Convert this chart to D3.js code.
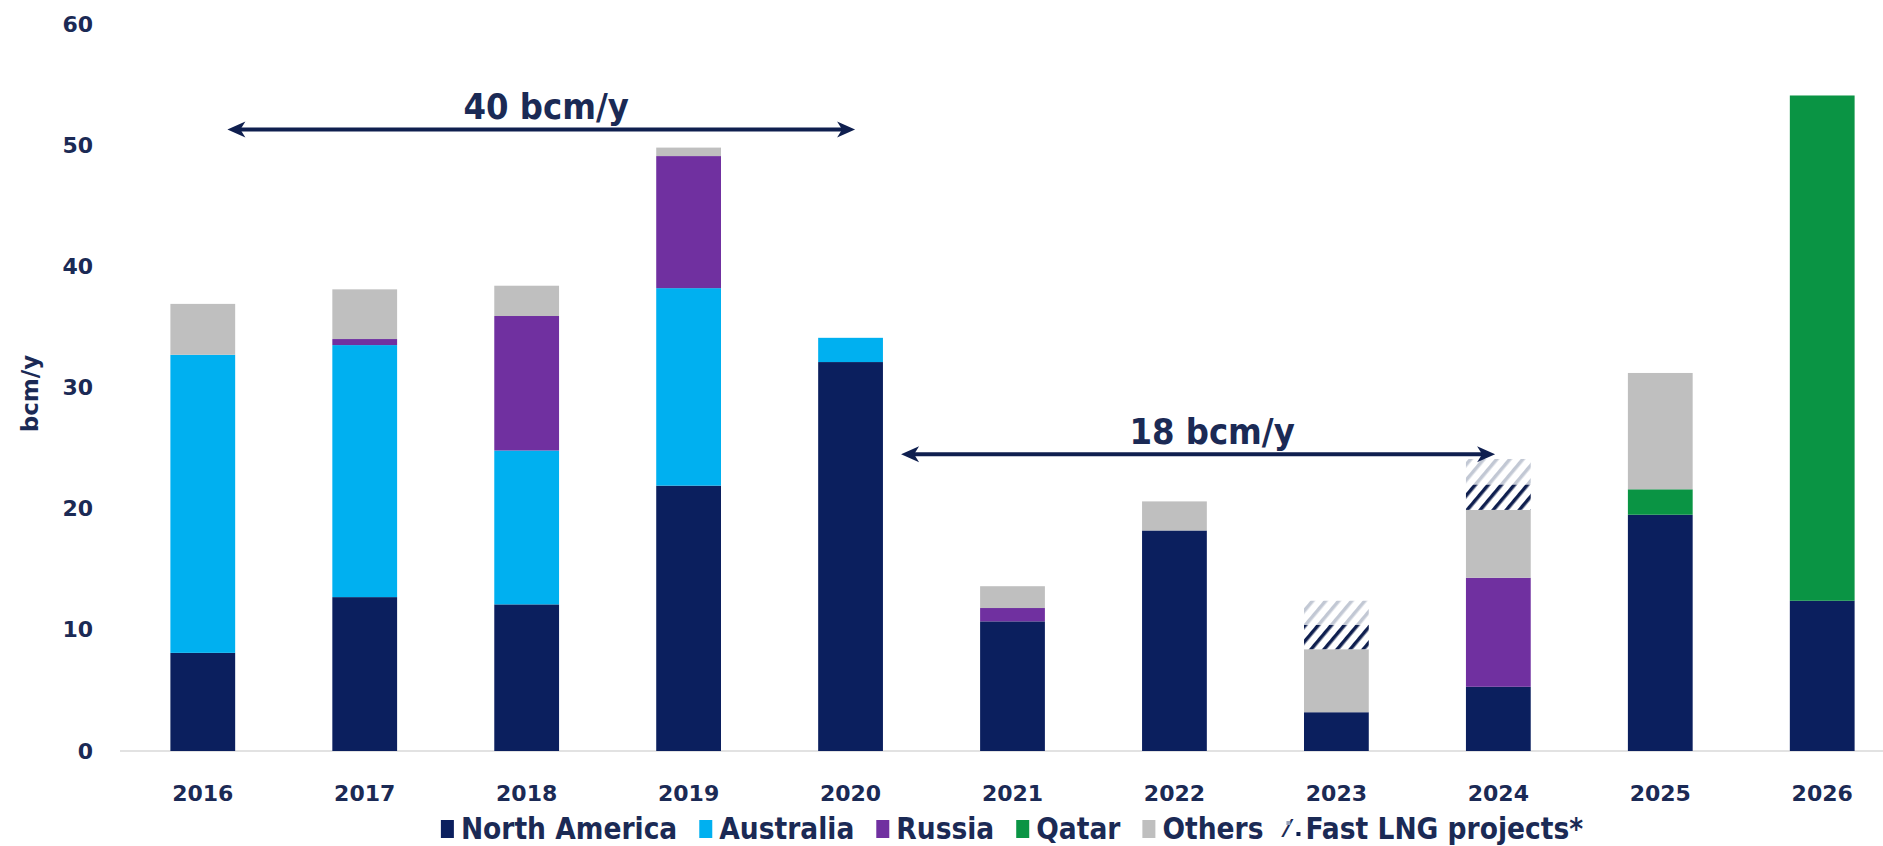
<!DOCTYPE html>
<html>
<head>
<meta charset="utf-8">
<script src="https://cdn.jsdelivr.net/npm/d3@7/dist/d3.min.js"></script>
<style>
  body { margin: 0; background: #fff; }
  svg { display: block; }
  text { fill: #1b2a55; font-weight: bold; }
</style>
</head>
<body>
<svg id="chart" width="1883" height="846"></svg>
<script>
// data (bcm/y)
const years = ['2016', '2017', '2018', '2019', '2020', '2021', '2022', '2023', '2024', '2025', '2026'];
const northAmerica = [8.1, 12.7, 12.1, 21.9, 32.1, 10.7, 18.2, 3.2, 5.3, 19.5, 12.4];
const australia    = [24.6, 20.8, 12.7, 16.3, 2.0, 0, 0, 0, 0, 0, 0];
const russia       = [0, 0.5, 11.1, 10.9, 0, 1.1, 0, 0, 9.0, 0, 0];
const qatar        = [0, 0, 0, 0, 0, 0, 0, 0, 0, 2.1, 41.7];
const others       = [4.2, 4.1, 2.5, 0.7, 0, 1.8, 2.4, 5.2, 5.6, 9.6, 0];
const fastLng      = [0, 0, 0, 0, 0, 0, 0, 4.0, 4.2, 0, 0];
const yTicks = [0, 10, 20, 30, 40, 50, 60];
const seriesNames = ['North America', 'Australia', 'Russia', 'Qatar', 'Others', 'Fast LNG projects*'];
// capacity annotations: from year, to year, level, text
const spans = [
  { from: '2016', to: '2020', level: 51.3, label: '40 bcm/y' },
  { from: '2020', to: '2024', level: 24.5, label: '18 bcm/y' }
];

const colors = {
  'North America': '#0b1f5e',
  'Australia': '#00b0f0',
  'Russia': '#7030a0',
  'Qatar': '#0a9444',
  'Others': '#bfbfbf'
};
const navy = '#0f1f4f';
const narrow = '"DejaVu Sans Condensed", "DejaVu Sans", sans-serif';
const wide = '"DejaVu Sans", Verdana, sans-serif';

const svg = d3.select('#chart');

const x = d3.scaleBand().domain(years).range([138, 1887]).paddingInner(0.6).paddingOuter(0.2);
const y = d3.scaleLinear().domain([0, 60]).range([751, 24]);

// hatch patterns for the fast LNG part (dark lower half, faded upper half)
const defs = svg.append('defs');
[['hatchDark', navy, 1], ['hatchLight', '#9aa3b8', 0.6]].forEach(([id, col, op]) => {
  const p = defs.append('pattern').attr('id', id)
      .attr('patternUnits', 'userSpaceOnUse').attr('width', 10).attr('height', 10)
      .attr('patternTransform', 'rotate(40)');
  p.append('rect').attr('width', 10).attr('height', 10).attr('fill', '#fff');
  p.append('rect').attr('x', 0).attr('y', 0).attr('width', 3.5).attr('height', 10)
      .attr('fill', col).attr('opacity', op);
});

// stack the series
const rows = years.map((yr, i) => ({
  year: yr,
  'North America': northAmerica[i],
  'Australia': australia[i],
  'Russia': russia[i],
  'Qatar': qatar[i],
  'Others': others[i],
  'Fast': fastLng[i]
}));
const keys = ['North America', 'Australia', 'Russia', 'Qatar', 'Others'];
const stacked = d3.stack().keys(keys.concat(['Fast']))(rows);

// baseline
svg.append('line')
    .attr('x1', 120).attr('x2', 1883)
    .attr('y1', y(0)).attr('y2', y(0))
    .attr('stroke', '#d9d9d9').attr('stroke-width', 1.5);

stacked.filter(s => s.key !== 'Fast').forEach(s => {
  svg.append('g').selectAll('rect')
    .data(s.filter(d => d[1] - d[0] > 0))
    .enter().append('rect')
      .attr('x', d => x(d.data.year))
      .attr('width', x.bandwidth())
      .attr('y', d => y(d[1]))
      .attr('height', d => y(d[0]) - y(d[1]))
      .attr('fill', colors[s.key]);
});

const fast = stacked.find(s => s.key === 'Fast').filter(d => d[1] - d[0] > 0);
const gFast = svg.append('g');
gFast.selectAll('rect.dark').data(fast).enter().append('rect').attr('class', 'dark')
    .attr('x', d => x(d.data.year)).attr('width', x.bandwidth())
    .attr('y', d => y((d[0] + d[1]) / 2)).attr('height', d => y(d[0]) - y((d[0] + d[1]) / 2))
    .attr('fill', 'url(#hatchDark)');
gFast.selectAll('rect.light').data(fast).enter().append('rect').attr('class', 'light')
    .attr('x', d => x(d.data.year)).attr('width', x.bandwidth())
    .attr('y', d => y(d[1])).attr('height', d => y((d[0] + d[1]) / 2) - y(d[1]))
    .attr('fill', 'url(#hatchLight)');

// y axis labels (no axis line)
const yAxis = svg.append('g').attr('transform', 'translate(93,0)')
    .call(d3.axisLeft(y).tickValues(yTicks).tickSize(0).tickPadding(0));
yAxis.select('.domain').remove();
yAxis.selectAll('text').attr('font-family', wide).attr('font-size', 22).attr('fill', '#1b2a55');

svg.append('text')
    .attr('transform', 'translate(38,' + y(29.5) + ') rotate(-90)')
    .attr('text-anchor', 'middle')
    .attr('font-family', wide).attr('font-size', 23)
    .text('bcm/y');

// x axis labels
const xAxis = svg.append('g').attr('transform', 'translate(0,' + (y(0) + 34) + ')')
    .call(d3.axisBottom(x).tickSize(0).tickPadding(0));
xAxis.select('.domain').remove();
xAxis.selectAll('text').attr('font-family', wide).attr('font-size', 22).attr('fill', '#1b2a55');

// span arrows
function arrowHead(px, py, dir) {
  const L = 18, H = 8, n = 5;
  return `M${px},${py} L${px - dir * L},${py - H} L${px - dir * (L - n)},${py} L${px - dir * L},${py + H} Z`;
}
spans.forEach((s, i) => {
  const x1 = x(s.from) + x.bandwidth() * (i === 0 ? 0.88 : 1.28);
  const x2 = x(s.to) + x.bandwidth() * (i === 0 ? 0.57 : 0.45);
  const yy = y(s.level);
  const g = svg.append('g');
  g.append('line').attr('x1', x1 + 6).attr('x2', x2 - 6).attr('y1', yy).attr('y2', yy)
      .attr('stroke', navy).attr('stroke-width', 4);
  g.append('path').attr('d', arrowHead(x1, yy, -1)).attr('fill', navy);
  g.append('path').attr('d', arrowHead(x2, yy, 1)).attr('fill', navy);
  g.append('text')
      .attr('x', (x1 + x2) / 2 + (i === 0 ? 5 : 14)).attr('y', yy - 10)
      .attr('text-anchor', 'middle')
      .attr('font-family', narrow).attr('font-size', 36)
      .text(s.label);
});

// legend
const legend = svg.append('g');
let cx = 0;
seriesNames.forEach(name => {
  const item = legend.append('g').attr('transform', `translate(${cx},0)`);
  if (name in colors) {
    item.append('rect').attr('x', 0).attr('y', -8).attr('width', 13).attr('height', 18)
        .attr('fill', colors[name]);
  } else {
    item.append('text').attr('x', 0).attr('y', 9).attr('font-family', narrow)
        .attr('font-size', 24).attr('fill', navy).text('⁄');
    item.append('rect').attr('x', 11).attr('y', 4).attr('width', 4).attr('height', 4).attr('fill', navy);
    item.append('rect').attr('x', 1).attr('y', -7).attr('width', 4).attr('height', 4).attr('fill', '#9aa3b8');
  }
  const t = item.append('text').attr('x', 20).attr('y', 11)
      .attr('font-family', narrow).attr('font-size', 29.5)
      .text(name);
  cx += 20 + t.node().getComputedTextLength() + 22;
});
const lw = cx - 22;
legend.attr('transform', `translate(${1012 - lw / 2},828)`);
</script>
</body>
</html>
